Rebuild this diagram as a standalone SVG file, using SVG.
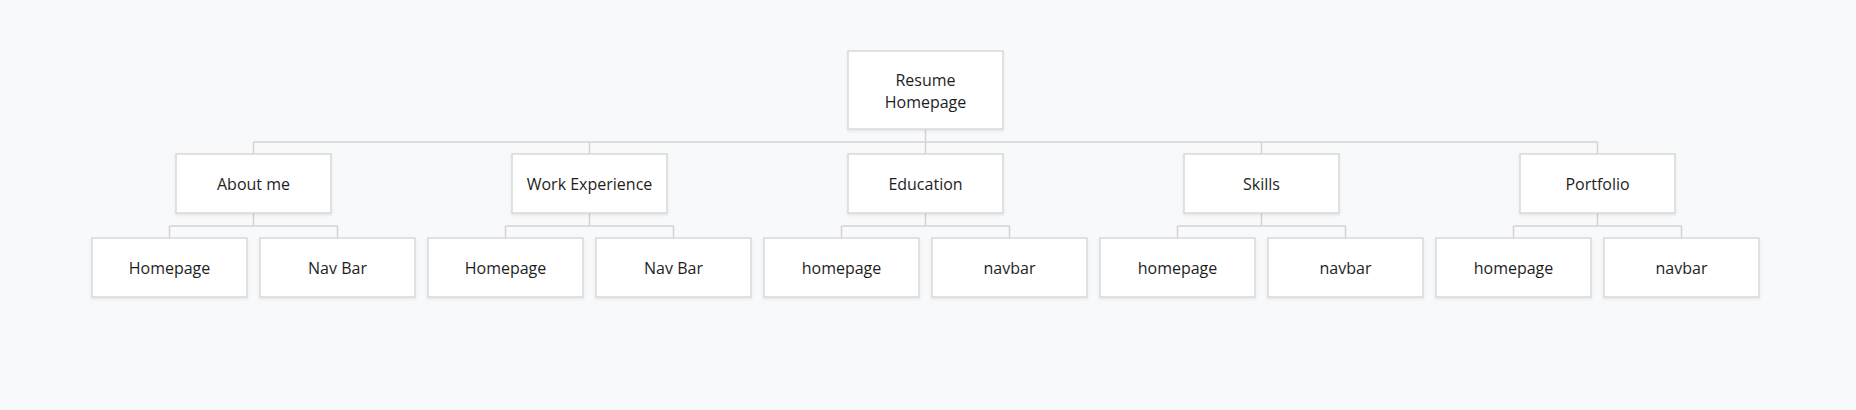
<svg xmlns="http://www.w3.org/2000/svg" width="1856" height="410" viewBox="0 0 1856 410">
<defs>
<filter id="sh" x="-10%" y="-10%" width="120%" height="130%">
<feDropShadow dx="0" dy="1.5" stdDeviation="1.5" flood-color="#000" flood-opacity="0.08"/>
</filter>
<style>
.box{fill:#ffffff;stroke:#d9d9d9;stroke-width:1.5;filter:url(#sh)}
.t{font-family:"Open Sans","Noto Sans",sans-serif;font-size:16px;fill:#1e1e1e;text-anchor:middle}
.c{fill:none;stroke:#d3d3d6;stroke-width:1.5}
</style>
</defs>
<rect width="1856" height="410" fill="#f8f9fb"/>
<g id="connectors">
<path class="c" d="M925.5 129V154M253.5 142H1597.5M253.5 142V154M589.5 142V154M1261.5 142V154M1597.5 142V154"/>
<path class="c" d="M253.5 213V226M169.5 226H337.5M169.5 226V238M337.5 226V238"/>
<path class="c" d="M589.5 213V226M505.5 226H673.5M505.5 226V238M673.5 226V238"/>
<path class="c" d="M925.5 213V226M841.5 226H1009.5M841.5 226V238M1009.5 226V238"/>
<path class="c" d="M1261.5 213V226M1177.5 226H1345.5M1177.5 226V238M1345.5 226V238"/>
<path class="c" d="M1597.5 213V226M1513.5 226H1681.5M1513.5 226V238M1681.5 226V238"/>
</g>
<g id="root"><rect class="box" x="848" y="51" width="155" height="78"/><text class="t" x="925.5" y="85.5">Resume</text><text class="t" x="925.5" y="107.5">Homepage</text></g>
<g id="about"><rect class="box" x="176" y="154" width="155" height="59"/><text class="t" x="253.5" y="189.5">About me</text></g>
<g id="work"><rect class="box" x="512" y="154" width="155" height="59"/><text class="t" x="589.5" y="189.5">Work Experience</text></g>
<g id="education"><rect class="box" x="848" y="154" width="155" height="59"/><text class="t" x="925.5" y="189.5">Education</text></g>
<g id="skills"><rect class="box" x="1184" y="154" width="155" height="59"/><text class="t" x="1261.5" y="189.5">Skills</text></g>
<g id="portfolio"><rect class="box" x="1520" y="154" width="155" height="59"/><text class="t" x="1597.5" y="189.5">Portfolio</text></g>
<g id="about-home"><rect class="box" x="92" y="238" width="155" height="59"/><text class="t" x="169.5" y="273.5">Homepage</text></g>
<g id="about-nav"><rect class="box" x="260" y="238" width="155" height="59"/><text class="t" x="337.5" y="273.5">Nav Bar</text></g>
<g id="work-home"><rect class="box" x="428" y="238" width="155" height="59"/><text class="t" x="505.5" y="273.5">Homepage</text></g>
<g id="work-nav"><rect class="box" x="596" y="238" width="155" height="59"/><text class="t" x="673.5" y="273.5">Nav Bar</text></g>
<g id="edu-home"><rect class="box" x="764" y="238" width="155" height="59"/><text class="t" x="841.5" y="273.5">homepage</text></g>
<g id="edu-nav"><rect class="box" x="932" y="238" width="155" height="59"/><text class="t" x="1009.5" y="273.5">navbar</text></g>
<g id="skills-home"><rect class="box" x="1100" y="238" width="155" height="59"/><text class="t" x="1177.5" y="273.5">homepage</text></g>
<g id="skills-nav"><rect class="box" x="1268" y="238" width="155" height="59"/><text class="t" x="1345.5" y="273.5">navbar</text></g>
<g id="port-home"><rect class="box" x="1436" y="238" width="155" height="59"/><text class="t" x="1513.5" y="273.5">homepage</text></g>
<g id="port-nav"><rect class="box" x="1604" y="238" width="155" height="59"/><text class="t" x="1681.5" y="273.5">navbar</text></g>
</svg>
